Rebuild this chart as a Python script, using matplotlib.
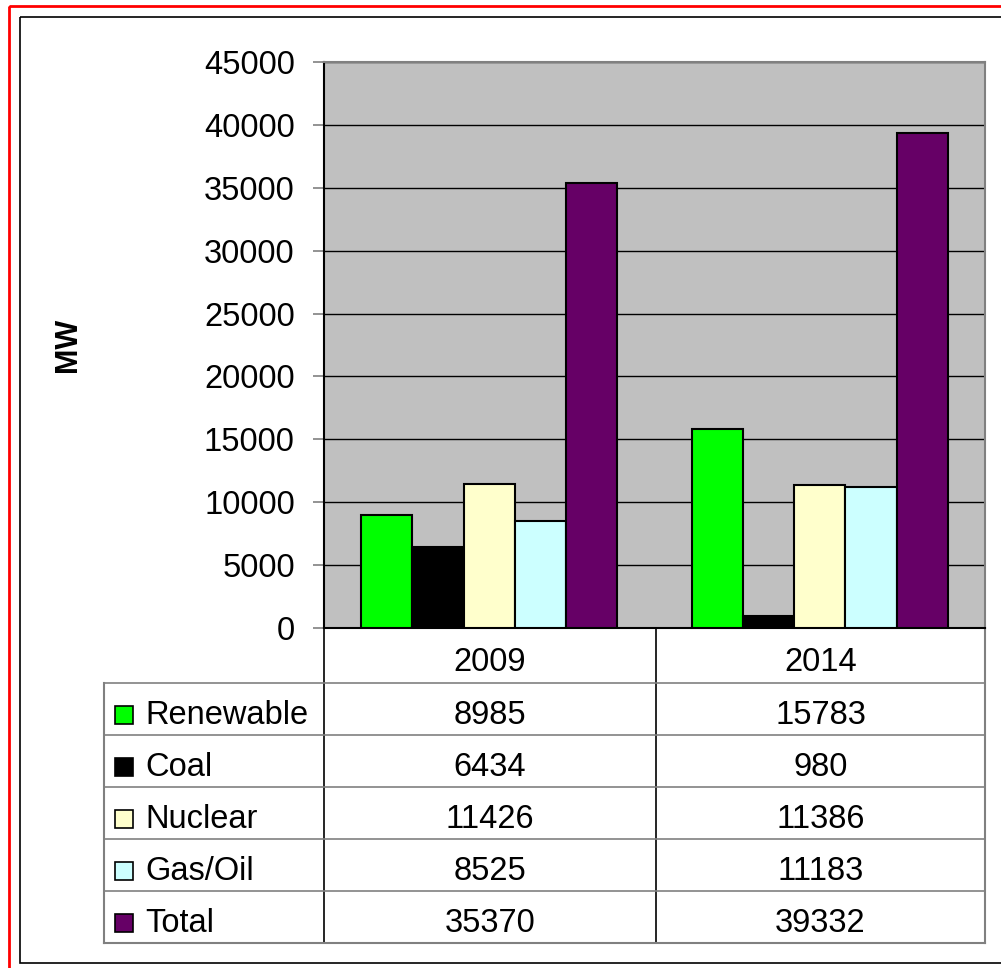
import matplotlib.pyplot as plt
from matplotlib.patches import Rectangle
import numpy as np

years = ['2009', '2014']
sources = ['Renewable', 'Coal', 'Nuclear', 'Gas/Oil', 'Total']
renewable = [8985, 15783]
coal = [6434, 980]
nuclear = [11426, 11386]
gas_oil = [8525, 11183]
total = [35370, 39332]
colors = ['#00FF00', '#000000', '#FFFFCC', '#CCFFFF', '#660066']
series = [renewable, coal, nuclear, gas_oil, total]

plt.rcParams['font.family'] = ['Liberation Sans', 'DejaVu Sans']

W, H = 1001, 968
fig = plt.figure(figsize=(W / 100, H / 100), dpi=100)


def box(l, t, r, b):
    return [l / W, 1 - b / H, (r - l) / W, (b - t) / H]


# overlay in pixel coords for frame and data table
ov = fig.add_axes([0, 0, 1, 1])
ov.set_xlim(0, W)
ov.set_ylim(H, 0)
ov.axis('off')
ov.add_patch(Rectangle((9, 6), 1100, 1100, fill=False, edgecolor='red', linewidth=2))
ov.add_patch(Rectangle((20, 17), 1100, 946, fill=False, edgecolor='black', linewidth=1.2))

# chart
ax = fig.add_axes(box(324, 62, 985, 628))
ax.set_facecolor('#C0C0C0')
x = np.arange(len(years))
bw = 0.155
for i, (vals, c) in enumerate(zip(series, colors)):
    ax.bar(x + (i - 2) * bw, vals, bw, color=c, edgecolor='black', linewidth=1.5, zorder=3)
ax.set_xlim(-0.5, 1.5)
ax.set_ylim(0, 45000)
ax.set_yticks(range(0, 45001, 5000))
ax.yaxis.grid(True, color='black', linewidth=1)
ax.set_axisbelow(True)
ax.set_xticks([])
ax.tick_params(axis='y', labelsize=23.5, length=8, width=1.2, color='#808080', pad=13)
ax.spines['left'].set_color('black')
ax.spines['bottom'].set_color('black')
ax.spines['top'].set_color('#808080')
ax.spines['right'].set_color('#808080')
for s in ax.spines.values():
    s.set_linewidth(1.5)
fig.text(68 / W, 1 - 345 / H, 'MW', rotation=90, fontsize=22, fontweight='bold',
         ha='center', va='center')

# data table
fs = 23.5
tl, c0, c1, tr = 104, 324, 656, 985
top, head, rh = 628, 683, 52
bottom = head + rh * len(sources)
lc = '#808080'
ov.plot([c0, c0], [top, bottom], color='black', lw=1.2)
ov.plot([c1, c1], [top, bottom], color='black', lw=1.2)
ov.plot([tr, tr], [top, bottom], color=lc, lw=1.5)
ov.plot([tl, tl], [head, bottom], color=lc, lw=1.5)
ov.plot([tl, tr], [head, head], color=lc, lw=1.2)
ov.plot([tl, tr], [bottom, bottom], color=lc, lw=1.5)
for j in range(1, len(sources)):
    ov.plot([tl, tr], [head + j * rh, head + j * rh], color=lc, lw=1.2)
cx = [(c0 + c1) / 2, (c1 + tr) / 2]
for k, yr in enumerate(years):
    ov.text(cx[k], (top + head) / 2 + 7, yr, fontsize=fs, ha='center', va='center')
for j, (name, vals, c) in enumerate(zip(sources, series, colors)):
    yc = head + j * rh + rh / 2 + 6
    ov.add_patch(Rectangle((115, yc - 9), 18, 18, facecolor=c, edgecolor='black', lw=1.2))
    ov.text(145, yc, name, fontsize=fs, ha='left', va='center')
    for k in range(len(years)):
        ov.text(cx[k], yc, str(vals[k]), fontsize=fs, ha='center', va='center')

fig.savefig('out.png', dpi=100)
